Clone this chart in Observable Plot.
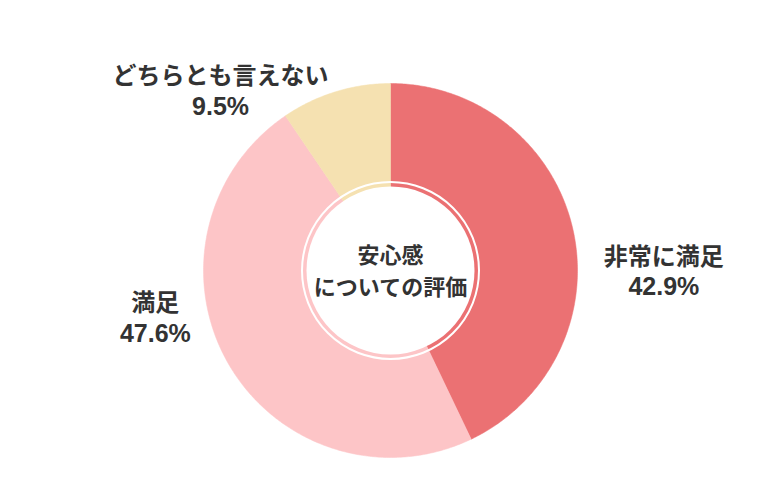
<!DOCTYPE html>
<html><head><meta charset="utf-8">
<script src="https://cdn.jsdelivr.net/npm/d3@7"></script>
<script src="https://cdn.jsdelivr.net/npm/@observablehq/plot@0.6"></script>
<style>
html,body{margin:0;padding:0;background:#fff;}
#chart{width:780px;height:500px;}
</style>
</head><body><div id="chart"></div>
<script>
// data
const categories = ["非常に満足", "満足", "どちらとも言えない"];
const values = [42.9, 47.6, 9.5];
const colors = ["#EB7173", "#FDC5C7", "#F5E1B1"];
const centerTitle = ["安心感", "についての評価"];

// layout
const W = 780, H = 500;
const cx = 390, cy = 270;   // pixel centre of the pie
const R = 187, ringR = 88.5, discR = 84;
const labelOffsets = [[91, 42], [-73, -46], [-115, -1]]; // from slice outer mid-point

const pie = d3.pie().sort(null).value(d => d.value)(
  categories.map((c, i) => ({category: c, value: values[i], color: colors[i]}))
);

// polygon points for each slice (math coords, y up, centred at 0)
const polys = [];
pie.forEach(p => {
  const n = Math.max(2, Math.ceil((p.endAngle - p.startAngle) / 0.01));
  polys.push({k: p.data.category, x: 0, y: 0});
  for (let i = 0; i <= n; i++) {
    const a = p.startAngle + (p.endAngle - p.startAngle) * i / n;
    polys.push({k: p.data.category, x: R * Math.sin(a), y: R * Math.cos(a)});
  }
  polys.push({k: p.data.category, x: 0, y: 0});
});

const labels = pie.map((p, i) => {
  const m = (p.startAngle + p.endAngle) / 2;
  return {
    category: p.data.category,
    pct: p.data.value.toFixed(1) + "%",
    x: R * Math.sin(m) + labelOffsets[i][0],
    y: R * Math.cos(m) - labelOffsets[i][1]
  };
});

const font = "'Noto Sans CJK JP', 'Noto Sans', sans-serif";
const chart = Plot.plot({
  width: W, height: H,
  margin: 0,
  x: {domain: [-cx, W - cx], axis: null},
  y: {domain: [cy - H, cy], axis: null},
  color: {domain: categories, range: colors},
  style: {fontFamily: font, background: "#fff"},
  marks: [
    Plot.line(polys, {x: "x", y: "y", z: "k", fill: "k", stroke: "k", strokeWidth: 0.5, curve: "linear"}),
    Plot.dot([{x: 0, y: 0}], {x: "x", y: "y", r: ringR, fill: "none", stroke: "#fff", strokeWidth: 2}),
    Plot.dot([{x: 0, y: 0}], {x: "x", y: "y", r: discR, fill: "#fff", stroke: "none"}),
    Plot.text([centerTitle[0]], {x: () => 0, y: () => 0, text: d => d, fontSize: 22, fontWeight: "bold", fill: "#333", dy: -15}),
    Plot.text([centerTitle[1]], {x: () => 0, y: () => 0, text: d => d, fontSize: 22, fontWeight: "bold", fill: "#333", dy: 17}),
    Plot.text(labels, {x: "x", y: "y", text: "category", fontSize: 24, fontWeight: "bold", fill: "#333", dy: -14}),
    Plot.text(labels, {x: "x", y: "y", text: "pct", fontSize: 25, fontWeight: "bold", fill: "#333", dy: 16,
      fontFamily: "'Liberation Sans', Arial, sans-serif"})
  ]
});
document.getElementById("chart").appendChild(chart);
</script>
</body></html>
